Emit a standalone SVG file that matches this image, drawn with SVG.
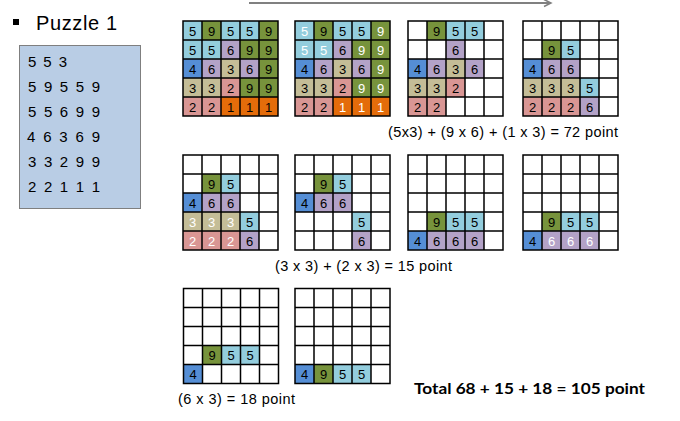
<svg xmlns="http://www.w3.org/2000/svg" xmlns:xlink="http://www.w3.org/1999/xlink" width="680" height="421" viewBox="0 0 680 421">
<style>
.c5{fill:#93CDDD}.c9{fill:#77933C}.c6{fill:#B3A2C7}.c3{fill:#C4BD97}.c4{fill:#558ED5}.c2{fill:#D99694}.c1{fill:#E46C0A}
.g text{font-family:"Liberation Sans",Arial,sans-serif;font-size:13px;text-anchor:middle;fill:#000}
.g text.w{fill:#fff}
.lbl{font-family:"Liberation Sans",Arial,sans-serif;font-size:14.5px;fill:#000}
.box{font-family:"Liberation Sans",Arial,sans-serif;font-size:15px;fill:#000}
</style>
<defs>
<path id="grid" d="M0 0H95V95H0Z M19 0V95 M38 0V95 M57 0V95 M76 0V95 M0 19H95 M0 38H95 M0 57H95 M0 76H95" fill="none" stroke="#000" stroke-width="1.5"/>
<marker id="ah" markerWidth="10" markerHeight="10" refX="8" refY="4" orient="auto" markerUnits="userSpaceOnUse">
<path d="M1 0.5 L8 4 L1 7.5" fill="none" stroke="#808080" stroke-width="1.5"/>
</marker>
</defs>
<rect width="680" height="421" fill="#fff"/>
<g id="connectors">
<line x1="249" y1="3" x2="551" y2="3" stroke="#808080" stroke-width="2" marker-end="url(#ah)"/>
</g>
<g id="title">
<rect x="13" y="19" width="6" height="6" fill="#000"/>
<text x="36" y="30" font-family="Liberation Sans,Arial,sans-serif" font-size="20" textLength="81">Puzzle 1</text>
</g>
<g id="input">
<rect x="19.5" y="45.5" width="121" height="163" fill="#B9CDE5" stroke="#7F7F7F" stroke-width="1"/>
<text class="box" x="28" y="67" textLength="39">5 5 3</text>
<text class="box" x="28" y="92" textLength="72">5 9 5 5 9</text>
<text class="box" x="28" y="117" textLength="72">5 5 6 9 9</text>
<text class="box" x="27" y="142" textLength="73">4 6 3 6 9</text>
<text class="box" x="28" y="167" textLength="72">3 3 2 9 9</text>
<text class="box" x="28" y="192" textLength="72">2 2 1 1 1</text>
</g>
<g id="g1" class="g" transform="translate(183,21)">
<rect class="c5" x="0" y="0" width="19" height="19"/><rect class="c9" x="19" y="0" width="19" height="19"/><rect class="c5" x="38" y="0" width="19" height="19"/><rect class="c5" x="57" y="0" width="19" height="19"/><rect class="c9" x="76" y="0" width="19" height="19"/>
<rect class="c5" x="0" y="19" width="19" height="19"/><rect class="c5" x="19" y="19" width="19" height="19"/><rect class="c6" x="38" y="19" width="19" height="19"/><rect class="c9" x="57" y="19" width="19" height="19"/><rect class="c9" x="76" y="19" width="19" height="19"/>
<rect class="c4" x="0" y="38" width="19" height="19"/><rect class="c6" x="19" y="38" width="19" height="19"/><rect class="c3" x="38" y="38" width="19" height="19"/><rect class="c6" x="57" y="38" width="19" height="19"/><rect class="c9" x="76" y="38" width="19" height="19"/>
<rect class="c3" x="0" y="57" width="19" height="19"/><rect class="c3" x="19" y="57" width="19" height="19"/><rect class="c2" x="38" y="57" width="19" height="19"/><rect class="c9" x="57" y="57" width="19" height="19"/><rect class="c9" x="76" y="57" width="19" height="19"/>
<rect class="c2" x="0" y="76" width="19" height="19"/><rect class="c2" x="19" y="76" width="19" height="19"/><rect class="c1" x="38" y="76" width="19" height="19"/><rect class="c1" x="57" y="76" width="19" height="19"/><rect class="c1" x="76" y="76" width="19" height="19"/>
<use xlink:href="#grid"/>
<text x="9.5" y="14.5">5</text><text x="28.5" y="14.5">9</text><text x="47.5" y="14.5">5</text><text x="66.5" y="14.5">5</text><text x="85.5" y="14.5">9</text>
<text x="9.5" y="33.5">5</text><text x="28.5" y="33.5">5</text><text x="47.5" y="33.5">6</text><text x="66.5" y="33.5">9</text><text x="85.5" y="33.5">9</text>
<text x="9.5" y="52.5">4</text><text x="28.5" y="52.5">6</text><text x="47.5" y="52.5">3</text><text x="66.5" y="52.5">6</text><text x="85.5" y="52.5">9</text>
<text x="9.5" y="71.5">3</text><text x="28.5" y="71.5">3</text><text x="47.5" y="71.5">2</text><text x="66.5" y="71.5">9</text><text x="85.5" y="71.5">9</text>
<text x="9.5" y="90.5">2</text><text x="28.5" y="90.5">2</text><text x="47.5" y="90.5">1</text><text x="66.5" y="90.5">1</text><text x="85.5" y="90.5">1</text>
</g>
<g id="g2" class="g" transform="translate(295,21)">
<rect class="c5" x="0" y="0" width="19" height="19"/><rect class="c9" x="19" y="0" width="19" height="19"/><rect class="c5" x="38" y="0" width="19" height="19"/><rect class="c5" x="57" y="0" width="19" height="19"/><rect class="c9" x="76" y="0" width="19" height="19"/>
<rect class="c5" x="0" y="19" width="19" height="19"/><rect class="c5" x="19" y="19" width="19" height="19"/><rect class="c6" x="38" y="19" width="19" height="19"/><rect class="c9" x="57" y="19" width="19" height="19"/><rect class="c9" x="76" y="19" width="19" height="19"/>
<rect class="c4" x="0" y="38" width="19" height="19"/><rect class="c6" x="19" y="38" width="19" height="19"/><rect class="c3" x="38" y="38" width="19" height="19"/><rect class="c6" x="57" y="38" width="19" height="19"/><rect class="c9" x="76" y="38" width="19" height="19"/>
<rect class="c3" x="0" y="57" width="19" height="19"/><rect class="c3" x="19" y="57" width="19" height="19"/><rect class="c2" x="38" y="57" width="19" height="19"/><rect class="c9" x="57" y="57" width="19" height="19"/><rect class="c9" x="76" y="57" width="19" height="19"/>
<rect class="c2" x="0" y="76" width="19" height="19"/><rect class="c2" x="19" y="76" width="19" height="19"/><rect class="c1" x="38" y="76" width="19" height="19"/><rect class="c1" x="57" y="76" width="19" height="19"/><rect class="c1" x="76" y="76" width="19" height="19"/>
<use xlink:href="#grid"/>
<text class="w" x="9.5" y="14.5">5</text><text x="28.5" y="14.5">9</text><text x="47.5" y="14.5">5</text><text x="66.5" y="14.5">5</text><text class="w" x="85.5" y="14.5">9</text>
<text class="w" x="9.5" y="33.5">5</text><text class="w" x="28.5" y="33.5">5</text><text x="47.5" y="33.5">6</text><text class="w" x="66.5" y="33.5">9</text><text class="w" x="85.5" y="33.5">9</text>
<text x="9.5" y="52.5">4</text><text x="28.5" y="52.5">6</text><text x="47.5" y="52.5">3</text><text x="66.5" y="52.5">6</text><text class="w" x="85.5" y="52.5">9</text>
<text x="9.5" y="71.5">3</text><text x="28.5" y="71.5">3</text><text x="47.5" y="71.5">2</text><text class="w" x="66.5" y="71.5">9</text><text class="w" x="85.5" y="71.5">9</text>
<text x="9.5" y="90.5">2</text><text x="28.5" y="90.5">2</text><text class="w" x="47.5" y="90.5">1</text><text class="w" x="66.5" y="90.5">1</text><text class="w" x="85.5" y="90.5">1</text>
</g>
<g id="g3" class="g" transform="translate(408,21)">
<rect class="c9" x="19" y="0" width="19" height="19"/><rect class="c5" x="38" y="0" width="19" height="19"/><rect class="c5" x="57" y="0" width="19" height="19"/>
<rect class="c6" x="38" y="19" width="19" height="19"/>
<rect class="c4" x="0" y="38" width="19" height="19"/><rect class="c6" x="19" y="38" width="19" height="19"/><rect class="c3" x="38" y="38" width="19" height="19"/><rect class="c6" x="57" y="38" width="19" height="19"/>
<rect class="c3" x="0" y="57" width="19" height="19"/><rect class="c3" x="19" y="57" width="19" height="19"/><rect class="c2" x="38" y="57" width="19" height="19"/>
<rect class="c2" x="0" y="76" width="19" height="19"/><rect class="c2" x="19" y="76" width="19" height="19"/>
<use xlink:href="#grid"/>
<text x="28.5" y="14.5">9</text><text x="47.5" y="14.5">5</text><text x="66.5" y="14.5">5</text>
<text x="47.5" y="33.5">6</text>
<text x="9.5" y="52.5">4</text><text x="28.5" y="52.5">6</text><text x="47.5" y="52.5">3</text><text x="66.5" y="52.5">6</text>
<text x="9.5" y="71.5">3</text><text x="28.5" y="71.5">3</text><text x="47.5" y="71.5">2</text>
<text x="9.5" y="90.5">2</text><text x="28.5" y="90.5">2</text>
</g>
<g id="g4" class="g" transform="translate(523,21)">
<rect class="c9" x="19" y="19" width="19" height="19"/><rect class="c5" x="38" y="19" width="19" height="19"/>
<rect class="c4" x="0" y="38" width="19" height="19"/><rect class="c6" x="19" y="38" width="19" height="19"/><rect class="c6" x="38" y="38" width="19" height="19"/>
<rect class="c3" x="0" y="57" width="19" height="19"/><rect class="c3" x="19" y="57" width="19" height="19"/><rect class="c3" x="38" y="57" width="19" height="19"/><rect class="c5" x="57" y="57" width="19" height="19"/>
<rect class="c2" x="0" y="76" width="19" height="19"/><rect class="c2" x="19" y="76" width="19" height="19"/><rect class="c2" x="38" y="76" width="19" height="19"/><rect class="c6" x="57" y="76" width="19" height="19"/>
<use xlink:href="#grid"/>
<text x="28.5" y="33.5">9</text><text x="47.5" y="33.5">5</text>
<text x="9.5" y="52.5">4</text><text x="28.5" y="52.5">6</text><text x="47.5" y="52.5">6</text>
<text x="9.5" y="71.5">3</text><text x="28.5" y="71.5">3</text><text x="47.5" y="71.5">3</text><text x="66.5" y="71.5">5</text>
<text x="9.5" y="90.5">2</text><text x="28.5" y="90.5">2</text><text x="47.5" y="90.5">2</text><text x="66.5" y="90.5">6</text>
</g>
<g id="g5" class="g" transform="translate(183,155)">
<rect class="c9" x="19" y="19" width="19" height="19"/><rect class="c5" x="38" y="19" width="19" height="19"/>
<rect class="c4" x="0" y="38" width="19" height="19"/><rect class="c6" x="19" y="38" width="19" height="19"/><rect class="c6" x="38" y="38" width="19" height="19"/>
<rect class="c3" x="0" y="57" width="19" height="19"/><rect class="c3" x="19" y="57" width="19" height="19"/><rect class="c3" x="38" y="57" width="19" height="19"/><rect class="c5" x="57" y="57" width="19" height="19"/>
<rect class="c2" x="0" y="76" width="19" height="19"/><rect class="c2" x="19" y="76" width="19" height="19"/><rect class="c2" x="38" y="76" width="19" height="19"/><rect class="c6" x="57" y="76" width="19" height="19"/>
<use xlink:href="#grid"/>
<text x="28.5" y="33.5">9</text><text x="47.5" y="33.5">5</text>
<text x="9.5" y="52.5">4</text><text x="28.5" y="52.5">6</text><text x="47.5" y="52.5">6</text>
<text class="w" x="9.5" y="71.5">3</text><text class="w" x="28.5" y="71.5">3</text><text class="w" x="47.5" y="71.5">3</text><text x="66.5" y="71.5">5</text>
<text class="w" x="9.5" y="90.5">2</text><text class="w" x="28.5" y="90.5">2</text><text class="w" x="47.5" y="90.5">2</text><text x="66.5" y="90.5">6</text>
</g>
<g id="g6" class="g" transform="translate(295,155)">
<rect class="c9" x="19" y="19" width="19" height="19"/><rect class="c5" x="38" y="19" width="19" height="19"/>
<rect class="c4" x="0" y="38" width="19" height="19"/><rect class="c6" x="19" y="38" width="19" height="19"/><rect class="c6" x="38" y="38" width="19" height="19"/>
<rect class="c5" x="57" y="57" width="19" height="19"/>
<rect class="c6" x="57" y="76" width="19" height="19"/>
<use xlink:href="#grid"/>
<text x="28.5" y="33.5">9</text><text x="47.5" y="33.5">5</text>
<text x="9.5" y="52.5">4</text><text x="28.5" y="52.5">6</text><text x="47.5" y="52.5">6</text>
<text x="66.5" y="71.5">5</text>
<text x="66.5" y="90.5">6</text>
</g>
<g id="g7" class="g" transform="translate(408,155)">
<rect class="c9" x="19" y="57" width="19" height="19"/><rect class="c5" x="38" y="57" width="19" height="19"/><rect class="c5" x="57" y="57" width="19" height="19"/>
<rect class="c4" x="0" y="76" width="19" height="19"/><rect class="c6" x="19" y="76" width="19" height="19"/><rect class="c6" x="38" y="76" width="19" height="19"/><rect class="c6" x="57" y="76" width="19" height="19"/>
<use xlink:href="#grid"/>
<text x="28.5" y="71.5">9</text><text x="47.5" y="71.5">5</text><text x="66.5" y="71.5">5</text>
<text x="9.5" y="90.5">4</text><text x="28.5" y="90.5">6</text><text x="47.5" y="90.5">6</text><text x="66.5" y="90.5">6</text>
</g>
<g id="g8" class="g" transform="translate(523,155)">
<rect class="c9" x="19" y="57" width="19" height="19"/><rect class="c5" x="38" y="57" width="19" height="19"/><rect class="c5" x="57" y="57" width="19" height="19"/>
<rect class="c4" x="0" y="76" width="19" height="19"/><rect class="c6" x="19" y="76" width="19" height="19"/><rect class="c6" x="38" y="76" width="19" height="19"/><rect class="c6" x="57" y="76" width="19" height="19"/>
<use xlink:href="#grid"/>
<text x="28.5" y="71.5">9</text><text x="47.5" y="71.5">5</text><text x="66.5" y="71.5">5</text>
<text x="9.5" y="90.5">4</text><text class="w" x="28.5" y="90.5">6</text><text class="w" x="47.5" y="90.5">6</text><text class="w" x="66.5" y="90.5">6</text>
</g>
<g id="g9" class="g" transform="translate(183.5,288.5)">
<rect class="c9" x="19" y="57" width="19" height="19"/><rect class="c5" x="38" y="57" width="19" height="19"/><rect class="c5" x="57" y="57" width="19" height="19"/>
<rect class="c4" x="0" y="76" width="19" height="19"/>
<use xlink:href="#grid"/>
<text x="28.5" y="71.5">9</text><text x="47.5" y="71.5">5</text><text x="66.5" y="71.5">5</text>
<text x="9.5" y="90.5">4</text>
</g>
<g id="g10" class="g" transform="translate(295,288.5)">
<rect class="c4" x="0" y="76" width="19" height="19"/><rect class="c9" x="19" y="76" width="19" height="19"/><rect class="c5" x="38" y="76" width="19" height="19"/><rect class="c5" x="57" y="76" width="19" height="19"/>
<use xlink:href="#grid"/>
<text x="9.5" y="90.5">4</text><text x="28.5" y="90.5">9</text><text x="47.5" y="90.5">5</text><text x="66.5" y="90.5">5</text>
</g>
<g id="labels">
<text class="lbl" x="388" y="137" textLength="230" lengthAdjust="spacing">(5x3) + (9 x 6) + (1 x 3) = 72 point</text>
<text class="lbl" x="275" y="271" textLength="177" lengthAdjust="spacing">(3 x 3) + (2 x 3) = 15 point</text>
<text class="lbl" x="178" y="404" textLength="117" lengthAdjust="spacing">(6 x 3) = 18 point</text>
<text x="414" y="394" font-family="Lato,'Liberation Sans',sans-serif" font-weight="bold" font-size="16" textLength="231" lengthAdjust="spacingAndGlyphs">Total 68 + 15 + 18 = 105 point</text>
</g>
</svg>
